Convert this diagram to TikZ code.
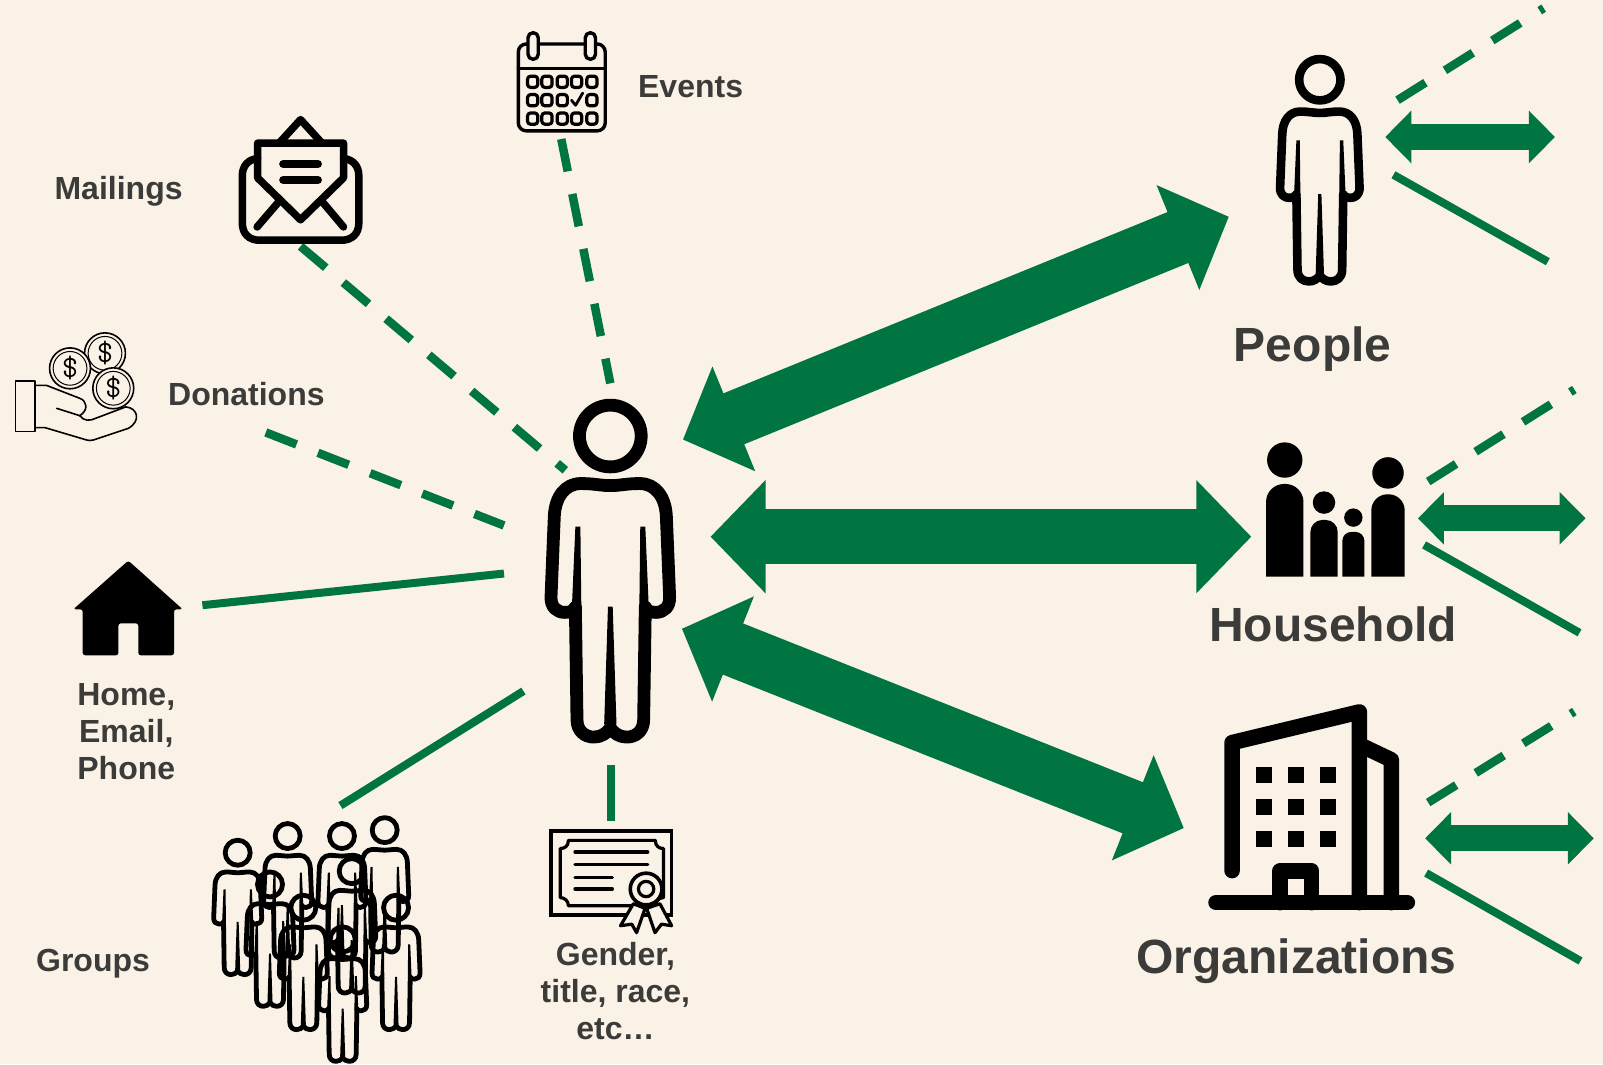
\documentclass[tikz,border=0pt]{standalone}
\usepackage{fontspec}
\setmainfont{Liberation Sans}
\usetikzlibrary{arrows.meta}
\definecolor{pagecream}{HTML}{FAF2E6}
\definecolor{bandgreen}{HTML}{007542}
\definecolor{labelgray}{HTML}{3B3C3A}
\tikzset{
        label/.style={text=labelgray, inner sep=0pt, align=center, font=\fontsize{32}{37}\selectfont\bfseries},
        biglabel/.style={text=labelgray, inner sep=0pt, font=\fontsize{48}{50}\selectfont\bfseries},
        coinmark/.style={inner sep=0pt, font=\fontsize{31}{32}\selectfont\ttfamily},
        dashline/.style={draw=bandgreen, line width=8.5pt, dash pattern=on 33pt off 23pt},
        fullline/.style={draw=bandgreen, line width=8pt},
        bigarrow/.style={draw=bandgreen, line width=55pt, {Triangle[length=55pt,width=110pt]}-{Triangle[length=55pt,width=110pt]}},
        smallarrow/.style={draw=bandgreen, line width=26pt, {Triangle[length=26pt,width=51pt]}-{Triangle[length=26pt,width=51pt]}},
        icon/.style={draw=black, line join=round, line cap=round},
        personicon/.pic={
          \draw[icon] (0,-1.5) circle [radius=30.2];
          \draw[icon] (-34.2,166) .. controls (-36,170) and (-40,171) .. (-44.7,171)
            .. controls (-52,171) and (-58.5,166) .. (-58,155.7) -- (-54.8,77)
            .. controls (-54,58) and (-44,45) .. (-29,45) .. controls (-15,45) and (-10,47) .. (0,47)
            .. controls (10,47) and (15,45) .. (29,45) .. controls (44,45) and (54,58) .. (54.8,77)
            -- (58,155.7) .. controls (58.5,166) and (52,171) .. (44.7,171)
            .. controls (40,171) and (36,170) .. (34.2,166);
          \draw[icon] (-34.2,166) -- (-32.6,276) .. controls (-32.6,287) and (-25,293) .. (-16,293)
            .. controls (-9,293) and (-3,289) .. (0,284) .. controls (3,289) and (9,293) .. (16,293)
            .. controls (25,293) and (32.6,287) .. (32.6,276) -- (34.2,166);
          \fill (-34.2,87) -- (-29.3,87) -- (-28.4,164) -- (-37.5,164) -- cycle;
          \fill (34.2,87) -- (29.3,87) -- (28.4,164) -- (37.5,164) -- cycle;
          \fill (-2.3,165.4) -- (2.3,165.4) -- (6,280) -- (0,290) -- (-6,280) -- cycle;
        }
          }
\begin{document}
\begin{tikzpicture}[x=1.0223pt, y=-1.0223pt]
  \fill[pagecream] (0,0) rectangle (1568,1041);
  \useasboundingbox (0,0) rectangle (1568,1041);

  \coordinate (eventsEnd) at (549,136);
  \coordinate (eventsHub) at (597,375);
  \coordinate (mailEnd) at (294,241);
  \coordinate (mailHub) at (553,460);
  \coordinate (giftEnd) at (260,423);
  \coordinate (giftHub) at (493,514);
  \coordinate (homeEnd) at (198,592);
  \coordinate (homeHub) at (493,561);
  \coordinate (groupEnd) at (333,788);
  \coordinate (groupHub) at (512,676);
  \coordinate (certEnd) at (598,803);
  \coordinate (certHub) at (598,748);
  \coordinate (peopleTipL) at (668,430);
  \coordinate (peopleTipR) at (1202,212);
  \coordinate (houseTipL) at (695,525);
  \coordinate (houseTipR) at (1224,525);
  \coordinate (orgTipL) at (667,615);
  \coordinate (orgTipR) at (1158,810);
  \coordinate (peopleOutL) at (1355,134);
  \coordinate (peopleOutR) at (1521,134);
  \coordinate (houseOutL) at (1387,507);
  \coordinate (houseOutR) at (1551,507);
  \coordinate (orgOutL) at (1394,820);
  \coordinate (orgOutR) at (1559,820);
  \coordinate (peopleDashA) at (1367,98);
  \coordinate (peopleDashB) at (1510,8);
  \coordinate (peopleLineA) at (1363,171);
  \coordinate (peopleLineB) at (1514,256);
  \coordinate (houseDashA) at (1397,471);
  \coordinate (houseDashB) at (1540,381);
  \coordinate (houseLineA) at (1393,533);
  \coordinate (houseLineB) at (1545,619);
  \coordinate (orgDashA) at (1397,785);
  \coordinate (orgDashB) at (1540,696);
  \coordinate (orgLineA) at (1395,854);
  \coordinate (orgLineB) at (1546,940);

  \draw[dashline] (eventsEnd) -- (eventsHub);
  \draw[dashline] (mailEnd) -- (mailHub);
  \draw[dashline] (giftEnd) -- (giftHub);
  \draw[fullline] (homeEnd) -- (homeHub);
  \draw[fullline] (groupEnd) -- (groupHub);
  \draw[fullline] (certEnd) -- (certHub);
  \draw[bigarrow] (peopleTipL) -- (peopleTipR);
  \draw[bigarrow] (houseTipL) -- (houseTipR);
  \draw[bigarrow] (orgTipL) -- (orgTipR);
  \draw[smallarrow] (peopleOutL) -- (peopleOutR);
  \draw[smallarrow] (houseOutL) -- (houseOutR);
  \draw[smallarrow] (orgOutL) -- (orgOutR);
  \draw[dashline] (peopleDashA) -- (peopleDashB);
  \draw[fullline] (peopleLineA) -- (peopleLineB);
  \draw[dashline] (houseDashA) -- (houseDashB);
  \draw[fullline] (houseLineA) -- (houseLineB);
  \draw[dashline] (orgDashA) -- (orgDashB);
  \draw[fullline] (orgLineA) -- (orgLineB);

  \pic[line width=12.8pt] at (597,428) {personicon};
  \pic[scale=0.67, line width=8.6pt] at (1291,79) {personicon};
  \foreach \px/\py in {232.5/834.7, 281.4/818.4, 334.5/818.4, 376.3/812.6, 264.1/865.7, 344/852.7, 296.7/888.5, 387.4/888.5, 335.2/919.5}
    \pic[scale=0.405, line width=4.8pt] at (\px,\py) {personicon};

  \foreach \hx/\hy/\hr/\xa/\xb/\ya/\rr in {1256.7/450/17.3/1238.4/1275/473.4/18, 1295.1/491.6/11/1281.8/1308.5/508.6/12, 1323.8/506.3/9/1313/1334.6/520.3/9, 1357.7/462.6/15.4/1341.4/1374/483.5/16}{
    \fill (\hx,\hy) circle [radius=\hr];
    \fill (\xa,564) [rounded corners=\rr pt] -- (\xa,\ya) -- (\xb,\ya) [sharp corners] -- (\xb,564) -- cycle;
  }

  \draw[icon, line width=15.6pt] (1205.2,851.6) -- (1205.2,726.4) -- (1329.7,696.4) -- (1329.7,882.9);
  \draw[icon, line width=15.6pt] (1330.3,728.7) -- (1361,743.3) -- (1361,882.9);
  \draw[icon, line width=15.6pt] (1189.5,882.9) -- (1376.6,882.9);
  \draw[icon, line width=15.6pt] (1252.1,882.9) -- (1252.1,851.9) -- (1283,851.9) -- (1283,882.9);
  \foreach \wx in {1236.5,1267.4,1298.7}
    \foreach \wy in {758,789.3,820.6}
      \fill (\wx-7.8,\wy-7.8) rectangle (\wx+7.8,\wy+7.8);

  \draw[icon, line width=7.5pt] (252,155) .. controls (243,156) and (237,162) .. (237,172) -- (237,218)
    .. controls (237,229) and (244,235) .. (254,235) -- (334,235) .. controls (344,235) and (351,229) .. (351,218)
    -- (351,172) .. controls (351,162) and (345,156) .. (336,155);
  \draw[icon, line width=7.5pt] (252,140) -- (336,140) -- (336,174) -- (294,215) -- (252,174) -- cycle;
  \draw[icon, line width=7.5pt] (273,140) -- (294,117) -- (315,140);
  \draw[icon, line width=8pt] (277,160.4) -- (311,160.4);
  \draw[icon, line width=8pt] (277,176) -- (311,176);
  \draw[icon, line width=7.5pt] (251.5,222) -- (273,197);
  \draw[icon, line width=7.5pt] (336,222) -- (315,197);

  \draw[icon, line width=3.4pt, rounded corners=8pt] (507,43) rectangle (592,128);
  \draw[icon, line width=3.4pt] (507,66.8) -- (592,66.8);
  \draw[icon, line width=3.4pt, fill=pagecream, rounded corners=5pt] (516.5,32) rectangle (526.5,58);
  \draw[icon, line width=3.4pt, fill=pagecream, rounded corners=5pt] (572.5,32) rectangle (582.5,58);
  \foreach \cx in {521,535,550,564,579}
    \foreach \cy in {80,116}
      \draw[icon, line width=3.2pt, rounded corners=3pt] (\cx-5,\cy-5.5) rectangle (\cx+5,\cy+5.5);
  \foreach \cx in {521,535,550,579}
    \draw[icon, line width=3.2pt, rounded corners=3pt] (\cx-5,92.5) rectangle (\cx+5,103.5);
  \draw[icon, line width=2.8pt] (559,98) -- (563,103) -- (570,91);

  \draw[icon, line width=1.6pt] (15.3,372.7) rectangle (34.2,422.2);
  \draw[icon, line width=1.6pt] (34,377) -- (45.6,377) -- (78,389.6) .. controls (85,392) and (87,401) .. (78,406.6) -- (55.4,399.4);
  \draw[icon, line width=1.6pt] (78,406.6) .. controls (82,412) and (88,412) .. (94,409) -- (123,398)
    .. controls (135,399) and (138,412) .. (125.5,419) -- (91.3,430.4) .. controls (88,431) and (87,431) .. (84.8,430.4) -- (44,418.3) -- (34.2,418.3);
  \foreach \cn/\cx/\cy in {coinA/102.7/345.6, coinB/68.5/360.3, coinC/110.8/379.8}{
    \draw[icon, line width=1.6pt, fill=pagecream] (\cx,\cy) circle [radius=20];
    \draw[icon, line width=1pt] (\cx,\cy) circle [radius=16.5];
    \node[coinmark] (\cn) at (\cx,\cy) {\$};
  }

  \draw[icon, line width=3.4pt, line join=miter] (539,813) rectangle (657,895);
  \draw[icon, line width=3.2pt] (556,822) -- (641,822) .. controls (641,828) and (645,830) .. (649,830) -- (649,878)
    .. controls (645,878) and (641,881) .. (641,886) -- (556,886) .. controls (556,881) and (552,878) .. (548,878)
    -- (548,830) .. controls (552,830) and (556,828) .. cycle;
  \foreach \ly in {833.4,845.8}
    \draw[icon, line width=3.2pt] (562.4,\ly) -- (633.6,\ly);
  \foreach \ly in {858.2,869.6}
    \draw[icon, line width=3.2pt] (562.4,\ly) -- (599,\ly);
  \draw[icon, line width=3.2pt, fill=pagecream] (619.5,884) -- (607,905.5) -- (618,904) -- (622.7,912.3) -- (631,888.5) -- cycle;
  \draw[icon, line width=3.2pt, fill=pagecream] (645.5,884) -- (657,905.5) -- (647,904) -- (640.7,912.3) -- (632.5,888.5) -- cycle;
  \draw[icon, line width=3.6pt, fill=pagecream] (632,869.6) circle [radius=15.5];
  \draw[icon, line width=3.2pt] (632,869.6) circle [radius=7.5];

  \fill[rounded corners=2.5pt] (125.5,548.4) -- (178.7,596) -- (170.2,596) -- (170.2,641) -- (135.3,641) -- (135.3,609.7) -- (115.8,609.7) -- (115.8,641) -- (80.9,641) -- (80.9,596) -- (71.7,596) -- cycle;

  \node[label] (events) at (675.5,85) {Events};
  \node[label] (mailings) at (116,187) {Mailings};
  \node[label] (donations) at (241,385) {Donations};
  \node[label] (contact) at (123.5,716) {Home,\\Email,\\Phone};
  \node[label] (groups) at (91,943) {Groups};
  \node[label] (gender) at (602,969) {Gender,\\title, race,\\etc…};
  \node[biglabel] (people) at (1284,341) {People};
  \node[biglabel] (household) at (1304,611) {Household};
  \node[biglabel] (organizations) at (1268,940) {Organizations};
\end{tikzpicture}
\end{document}
